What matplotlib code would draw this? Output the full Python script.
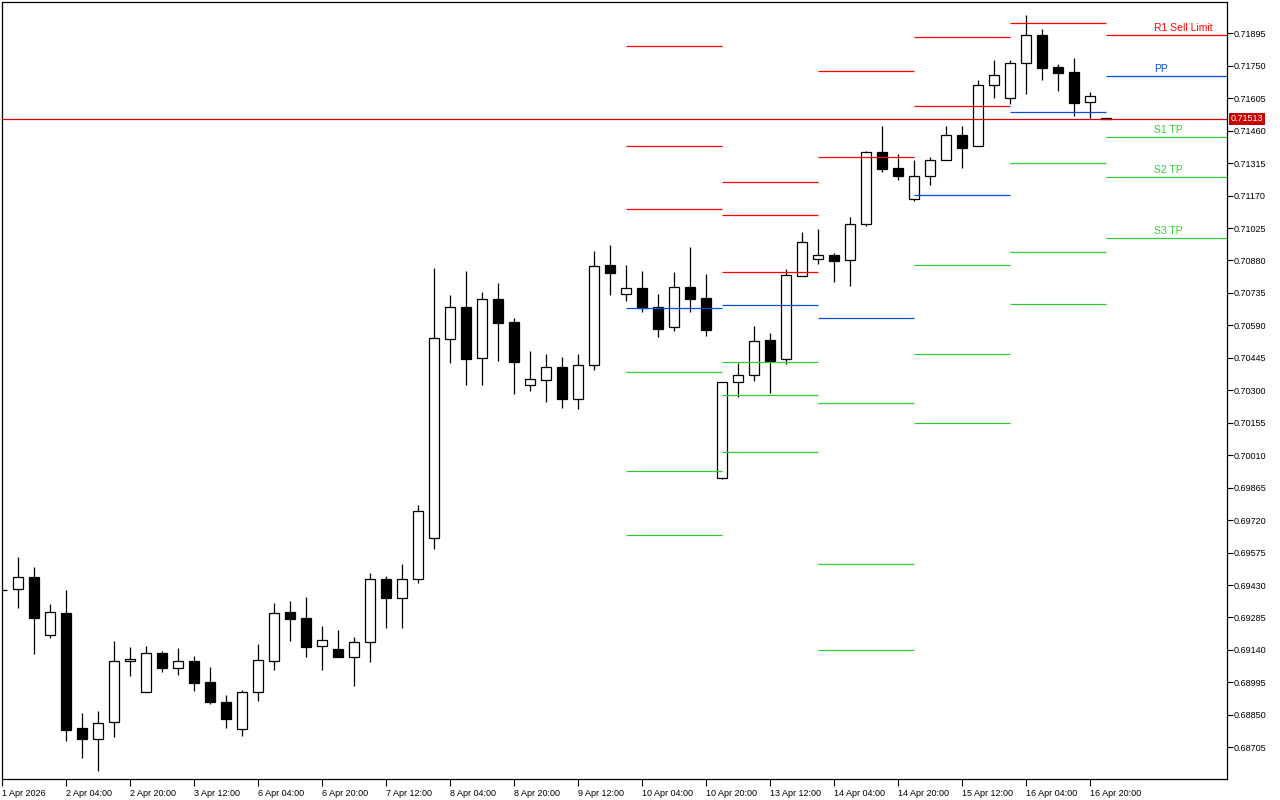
import matplotlib
matplotlib.use('Agg')
import matplotlib.pyplot as plt
import matplotlib.transforms as mtransforms
import numpy as np

# H4 candles, bar 0 = 1 Apr 12:00
opens = [0.69409, 0.69411, 0.69464, 0.69205, 0.69305, 0.68790, 0.68743, 0.68817, 0.69089, 0.68951,
         0.69125, 0.69061, 0.69091, 0.68997, 0.68907, 0.68785, 0.68951, 0.69089, 0.69309, 0.69283,
         0.69156, 0.69144, 0.69110, 0.69174, 0.69456, 0.69373, 0.69456, 0.69639, 0.70528, 0.70671,
         0.70443, 0.70707, 0.70604, 0.70325, 0.70347, 0.70403, 0.70262, 0.70412, 0.70860, 0.70729,
         0.70756, 0.70671, 0.70581, 0.70762, 0.70712, 0.69907, 0.70336, 0.70367, 0.70523, 0.70439,
         0.70809, 0.70885, 0.70903, 0.70881, 0.71042, 0.71363, 0.71292, 0.71153, 0.71256, 0.71328,
         0.71439, 0.71390, 0.71663, 0.71605, 0.71761, 0.71886, 0.71743, 0.71722, 0.71587, 0.71515]
highs = [0.69409, 0.69557, 0.69509, 0.69345, 0.69408, 0.68858, 0.68866, 0.69179, 0.69153, 0.69158,
         0.69135, 0.69149, 0.69113, 0.69064, 0.68939, 0.68961, 0.69166, 0.69351, 0.69359, 0.69376,
         0.69247, 0.69229, 0.69198, 0.69484, 0.69470, 0.69524, 0.69788, 0.70845, 0.70726, 0.70833,
         0.70739, 0.70779, 0.70623, 0.70476, 0.70462, 0.70449, 0.70462, 0.70922, 0.70949, 0.70860,
         0.70833, 0.70730, 0.70829, 0.70940, 0.70820, 0.70336, 0.70423, 0.70587, 0.70555, 0.70841,
         0.71007, 0.71021, 0.70912, 0.71073, 0.71371, 0.71481, 0.71356, 0.71328, 0.71341, 0.71481,
         0.71481, 0.71686, 0.71776, 0.71776, 0.71977, 0.71913, 0.71758, 0.71783, 0.71633, 0.71515]
lows = [0.69406, 0.69329, 0.69123, 0.69195, 0.68734, 0.68658, 0.68598, 0.68752, 0.69025, 0.68951,
        0.69043, 0.69029, 0.68958, 0.68900, 0.68793, 0.68757, 0.68913, 0.69052, 0.69181, 0.69110,
        0.69052, 0.69108, 0.68980, 0.69087, 0.69239, 0.69239, 0.69438, 0.69590, 0.70423, 0.70325,
        0.70325, 0.70432, 0.70283, 0.70298, 0.70249, 0.70222, 0.70218, 0.70392, 0.70727, 0.70700,
        0.70651, 0.70537, 0.70566, 0.70651, 0.70543, 0.69902, 0.70271, 0.70343, 0.70289, 0.70419,
        0.70809, 0.70866, 0.70785, 0.70767, 0.71035, 0.71275, 0.71240, 0.71146, 0.71219, 0.71328,
        0.71295, 0.71390, 0.71607, 0.71578, 0.71625, 0.71685, 0.71639, 0.71527, 0.71515, 0.71513]
closes = [0.69406, 0.69464, 0.69284, 0.69308, 0.68784, 0.68743, 0.68812, 0.69089, 0.69099, 0.69125,
          0.69061, 0.69089, 0.68994, 0.68909, 0.68833, 0.68951, 0.69094, 0.69304, 0.69280, 0.69155,
          0.69183, 0.69110, 0.69174, 0.69456, 0.69373, 0.69456, 0.69759, 0.70532, 0.70671, 0.70441,
          0.70707, 0.70602, 0.70427, 0.70349, 0.70403, 0.70262, 0.70412, 0.70855, 0.70825, 0.70756,
          0.70669, 0.70575, 0.70760, 0.70709, 0.70571, 0.70336, 0.70367, 0.70519, 0.70432, 0.70814,
          0.70961, 0.70903, 0.70879, 0.71042, 0.71363, 0.71290, 0.71259, 0.71256, 0.71328, 0.71439,
          0.71384, 0.71663, 0.71707, 0.71761, 0.71886, 0.71741, 0.71719, 0.71585, 0.71614, 0.71513]

tick_bars = [0, 4, 8, 12, 16, 20, 24, 28, 32, 36, 40, 44, 48, 52, 56, 60, 64, 68]
tick_labels = ['1 Apr 2026', '2 Apr 04:00', '2 Apr 20:00', '3 Apr 12:00', '6 Apr 04:00',
               '6 Apr 20:00', '7 Apr 12:00', '8 Apr 04:00', '8 Apr 20:00', '9 Apr 12:00',
               '10 Apr 04:00', '10 Apr 20:00', '13 Apr 12:00', '14 Apr 04:00', '14 Apr 20:00',
               '15 Apr 12:00', '16 Apr 04:00', '16 Apr 20:00']

# daily pivots (start bar of each day)
pivot_start = [39, 45, 51, 57, 63, 69]
r3 = [0.71838, 0.71231, 0.72442, 0.72281, 0.72567, 0.72349]
r2 = [0.71392, 0.71083, 0.71727, 0.71879, 0.72169, 0.72165]
r1 = [0.71110, 0.70829, 0.71342, 0.71570, 0.71941, 0.71887]
pp = [0.70668, 0.70681, 0.70623, 0.71173, 0.71543, 0.71703]
s1 = [0.70382, 0.70426, 0.70243, 0.70860, 0.71316, 0.71430]
s2 = [0.69939, 0.70279, 0.69524, 0.70462, 0.70918, 0.71252]
s3 = [0.69653, 0.70024, 0.69140, 0.70154, 0.70686, 0.70979]
level_names = ['R1 Sell Limit', 'PP', 'S1 TP', 'S2 TP', 'S3 TP']

price_now = 0.71513

RED = '#ff0000'
BLUE = '#0050dc'
GREEN = '#32cd32'

plt.rcParams['font.family'] = ['Liberation Sans', 'DejaVu Sans']

fig = plt.figure(figsize=(12.8, 8), dpi=100)
ax = fig.add_axes([2 / 1280, 21 / 800, 1225 / 1280, 777 / 800])
xmax = 76.56
ax.set_xlim(0, xmax)
ax.set_ylim(0.685632, 0.720349)

x = np.arange(len(opens))
o = np.array(opens)
c = np.array(closes)
ax.vlines(x, lows, highs, color='black', lw=0.9, zorder=2)
body_col = ['white' if cc > oo else 'black' for oo, cc in zip(o, c)]
ax.bar(x, c - o, bottom=o, width=0.6, color=body_col, edgecolor='black',
       linewidth=0.9, zorder=3)

# pivot segments
ends = pivot_start[1:] + [xmax]
for k in range(len(pivot_start)):
    x0, x1 = pivot_start[k], ends[k]
    for lv in (r3[k], r2[k], r1[k]):
        ax.hlines(lv, x0, x1, color=RED, lw=0.9, zorder=4)
    ax.hlines(pp[k], x0, x1, color=BLUE, lw=0.9, zorder=4)
    for lv in (s1[k], s2[k], s3[k]):
        ax.hlines(lv, x0, x1, color=GREEN, lw=0.9, zorder=4)

last = len(pivot_start) - 1
for name, lv, col in zip(level_names,
                         [r1[last], pp[last], s1[last], s2[last], s3[last]],
                         [RED, BLUE, GREEN, GREEN, GREEN]):
    ax.annotate(name, xy=(72, lv), xytext=(0, 1.5), textcoords='offset points',
                ha='left', va='bottom', color=col, fontsize=7.5)

# current price
ax.axhline(price_now, color='#d80000', lw=0.9, zorder=5)
trans = mtransforms.blended_transform_factory(ax.transAxes, ax.transData)
ax.text(1.0 + 4 / 1225, price_now, '%.5f' % price_now, transform=trans,
        ha='left', va='center', color='white', fontsize=6.5, zorder=6,
        bbox=dict(boxstyle='square,pad=0.2', fc='#c80000', ec='none'))

ax.yaxis.tick_right()
yt = np.round(0.68705 + 0.00145 * np.arange(23), 5)
ax.set_yticks(yt)
ax.set_yticklabels(['%.5f' % v for v in yt])
ax.tick_params(axis='y', direction='out', length=4, width=0.8, labelsize=6.5, pad=1)
ax.set_xticks(tick_bars)
ax.set_xticklabels(tick_labels, ha='left')
ax.tick_params(axis='x', direction='out', length=5, width=0.8, labelsize=6.5, pad=2)
for s in ax.spines.values():
    s.set_linewidth(0.9)
    s.set_color('black')

fig.savefig('out.png', dpi=100)
